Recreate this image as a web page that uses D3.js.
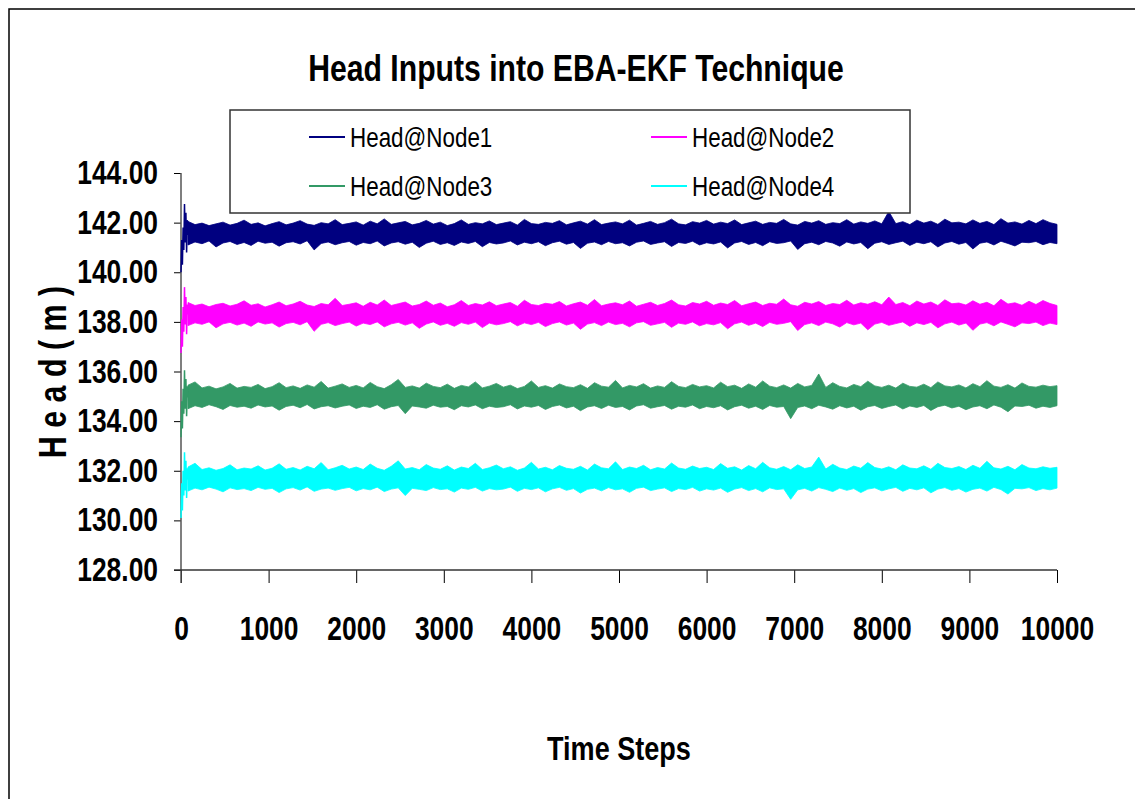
<!DOCTYPE html>
<html>
<head>
<meta charset="utf-8">
<script src="https://cdn.jsdelivr.net/npm/d3@7"></script>
<style>
  body { margin: 0; background: #fff; }
  svg { display: block; }
  text { font-family: "Liberation Sans", Arial, sans-serif; }
</style>
</head>
<body>
<div class="canvas"></div>
<script>
// time axis
const timeTicks = [0, 1000, 2000, 3000, 4000, 5000, 6000, 7000, 8000, 9000, 10000];
const headTicks = [128, 130, 132, 134, 136, 138, 140, 142, 144];
const seriesNames = ["Head@Node1", "Head@Node2", "Head@Node3", "Head@Node4"];
const seriesColors = ["#000080", "#ff00ff", "#339966", "#00ffff"];

// start-up transient, t = 0..80
const startSteps = [0, 8, 16, 24, 32, 40, 48, 56, 64, 72, 80];
const node1Start = [140.00, 141.30, 140.30, 141.80, 140.90, 142.75, 141.20, 142.40, 140.80, 142.10, 141.50];
const node2Start = [136.75, 138.10, 137.00, 138.60, 137.60, 139.40, 137.90, 139.00, 137.50, 138.70, 138.30];
const node3Start = [133.35, 134.80, 133.70, 135.30, 134.30, 136.05, 134.50, 135.70, 134.20, 135.40, 134.95];
const node4Start = [130.10, 131.50, 130.40, 132.00, 131.00, 132.75, 131.20, 132.40, 130.90, 132.10, 131.65];

// after that the noise band: max / min head every 80 steps (80..10000)
const node1Hi = [
  142.05,141.92,141.98,141.88,141.95,142.02,141.90,141.97,142.10,141.93,141.99,141.87,141.96,142.04,141.91,141.98,142.08,141.94,141.89,142.00,141.95,142.12,141.92,141.97,142.03,
  141.90,142.06,141.95,142.15,141.93,141.99,142.05,141.91,141.97,142.09,141.94,142.02,141.88,141.96,142.11,141.93,142.00,141.95,142.07,141.92,141.98,142.04,141.90,142.13,141.96,
  141.93,142.01,141.97,142.08,141.91,141.99,142.06,141.94,142.12,141.92,141.98,142.03,141.95,142.10,141.90,141.97,142.05,141.93,142.00,142.14,141.95,141.91,142.04,141.98,142.09,
  141.94,142.02,141.96,142.11,141.92,141.99,142.06,141.93,142.01,141.97,142.13,141.95,141.90,142.05,141.98,142.08,141.93,142.00,141.96,142.12,141.94,142.03,141.97,142.07,141.95,
  142.45,141.96,142.04,141.92,142.10,141.98,142.06,141.93,142.14,141.99,142.02,141.95,142.11,141.97,142.05,141.92,142.16,141.98,142.03,141.94,142.09,141.96,142.12,142.00,141.93];
const node1Lo = [
  141.10,141.22,141.15,141.26,141.02,141.18,141.24,141.12,141.20,141.08,141.25,141.17,141.21,141.05,141.19,141.23,141.14,141.27,140.90,141.16,141.22,141.11,141.19,141.24,141.09,
  141.20,141.15,141.26,141.06,141.18,141.23,141.13,141.21,141.00,141.17,141.25,141.12,141.19,141.08,141.22,141.16,141.24,141.03,141.20,141.14,141.18,141.26,141.10,141.21,141.15,
  141.23,141.07,141.19,141.25,141.13,141.20,140.96,141.17,141.22,141.11,141.24,141.15,141.19,141.06,141.21,141.26,141.12,141.18,141.23,141.04,141.20,141.16,141.25,141.10,141.19,
  141.14,141.22,140.98,141.18,141.24,141.12,141.20,141.07,141.23,141.16,141.19,141.26,140.92,141.15,141.21,141.11,141.24,141.18,141.05,141.22,141.14,141.20,140.95,141.17,141.23,
  141.12,141.19,141.25,141.08,141.21,141.15,141.23,141.02,141.18,141.24,141.13,141.20,140.94,141.17,141.22,141.10,141.25,141.16,141.06,141.21,141.19,141.24,141.11,141.20,141.15];

const node2Hi = [
  138.78,138.66,138.72,138.61,138.70,138.75,138.64,138.71,138.85,138.67,138.73,138.60,138.69,138.80,138.65,138.72,138.83,138.68,138.62,138.74,138.69,138.95,138.66,138.71,138.77,
  138.63,138.79,138.68,138.88,138.66,138.73,138.80,138.64,138.70,138.84,138.67,138.76,138.61,138.69,138.86,138.66,138.74,138.68,138.81,138.65,138.72,138.78,138.63,138.87,138.70,
  138.66,138.75,138.71,138.82,138.64,138.73,138.80,138.67,138.90,138.65,138.72,138.77,138.69,138.84,138.63,138.71,138.79,138.66,138.74,138.88,138.69,138.64,138.78,138.72,138.83,
  138.67,138.76,138.70,138.86,138.65,138.73,138.80,138.66,138.75,138.71,138.92,138.69,138.63,138.79,138.72,138.82,138.66,138.74,138.70,138.87,138.68,138.77,138.71,138.81,138.69,
  139.00,138.70,138.78,138.65,138.84,138.72,138.80,138.66,138.89,138.73,138.76,138.68,138.85,138.71,138.79,138.65,138.91,138.72,138.77,138.67,138.83,138.70,138.86,138.74,138.66];
const node2Lo = [
  137.85,137.96,137.90,138.00,137.76,137.92,137.98,137.87,137.95,137.82,138.00,137.91,137.96,137.79,137.93,137.98,137.88,138.01,137.62,137.90,137.97,137.85,137.93,137.99,137.83,
  137.95,137.89,138.00,137.80,137.92,137.98,137.87,137.96,137.74,137.91,138.00,137.86,137.94,137.82,137.97,137.90,137.99,137.77,137.95,137.88,137.93,138.01,137.84,137.96,137.89,
  137.98,137.81,137.93,138.00,137.87,137.95,137.70,137.91,137.97,137.85,137.99,137.89,137.94,137.80,137.96,138.01,137.86,137.92,137.98,137.78,137.95,137.90,138.00,137.84,137.93,
  137.88,137.97,137.72,137.92,137.99,137.86,137.95,137.81,137.98,137.90,137.94,138.01,137.65,137.89,137.96,137.85,137.99,137.92,137.79,137.97,137.88,137.95,137.68,137.91,137.98,
  137.86,137.93,138.00,137.82,137.96,137.89,137.98,137.76,137.92,137.99,137.87,137.95,137.66,137.91,137.97,137.84,138.00,137.90,137.80,137.96,137.93,137.99,137.85,137.95,137.89];

const node3Hi = [
  135.45,135.58,135.34,135.41,135.30,135.38,135.52,135.33,135.40,135.36,135.48,135.31,135.39,135.55,135.35,135.42,135.32,135.46,135.37,135.60,135.33,135.41,135.50,135.36,135.44,
  135.34,135.56,135.39,135.31,135.47,135.68,135.36,135.42,135.33,135.53,135.40,135.35,135.49,135.32,135.44,135.38,135.58,135.34,135.41,135.52,135.37,135.45,135.31,135.40,135.62,
  135.36,135.43,135.33,135.50,135.39,135.35,135.47,135.32,135.55,135.41,135.37,135.64,135.34,135.44,135.38,135.51,135.33,135.42,135.36,135.59,135.40,135.35,135.48,135.38,135.43,
  135.34,135.57,135.39,135.45,135.32,135.50,135.37,135.62,135.41,135.35,135.46,135.33,135.52,135.38,135.44,135.90,135.36,135.55,135.40,135.34,135.48,135.39,135.61,135.42,135.36,
  135.45,135.33,135.53,135.40,135.37,135.49,135.35,135.58,135.42,135.38,135.46,135.34,135.51,135.39,135.63,135.41,135.36,135.47,135.33,135.54,135.40,135.37,135.45,135.39,135.43];
const node3Lo = [
  134.50,134.62,134.55,134.66,134.58,134.47,134.63,134.56,134.60,134.52,134.65,134.57,134.61,134.44,134.59,134.64,134.54,134.67,134.49,134.58,134.62,134.53,134.60,134.65,134.51,
  134.60,134.55,134.66,134.48,134.58,134.63,134.30,134.61,134.57,134.52,134.64,134.56,134.59,134.46,134.62,134.57,134.65,134.50,134.60,134.55,134.58,134.66,134.49,134.61,134.56,
  134.63,134.47,134.59,134.65,134.53,134.60,134.42,134.57,134.62,134.51,134.64,134.55,134.59,134.45,134.61,134.66,134.52,134.58,134.63,134.48,134.60,134.56,134.65,134.50,134.59,
  134.54,134.62,134.45,134.58,134.64,134.52,134.60,134.47,134.63,134.56,134.59,134.10,134.55,134.61,134.50,134.64,134.57,134.48,134.62,134.53,134.60,134.44,134.58,134.63,134.51,
  134.59,134.65,134.49,134.61,134.55,134.63,134.43,134.58,134.64,134.53,134.60,134.46,134.57,134.62,134.50,134.65,134.56,134.38,134.61,134.59,134.64,134.52,134.60,134.55,134.62];

const node4Hi = [
  132.15,132.30,132.05,132.12,132.02,132.09,132.24,132.04,132.11,132.07,132.20,132.03,132.10,132.28,132.06,132.13,132.03,132.18,132.08,132.33,132.04,132.12,132.22,132.07,132.15,
  132.05,132.27,132.10,132.02,132.18,132.40,132.07,132.13,132.04,132.25,132.11,132.06,132.20,132.03,132.15,132.09,132.30,132.05,132.12,132.23,132.08,132.16,132.02,132.11,132.34,
  132.07,132.14,132.04,132.21,132.10,132.06,132.18,132.03,132.27,132.12,132.08,132.36,132.05,132.15,132.09,132.22,132.04,132.13,132.07,132.31,132.11,132.06,132.19,132.09,132.14,
  132.05,132.29,132.10,132.16,132.03,132.21,132.08,132.34,132.12,132.06,132.17,132.04,132.24,132.09,132.15,132.55,132.07,132.26,132.11,132.05,132.19,132.10,132.33,132.13,132.07,
  132.16,132.04,132.24,132.11,132.08,132.20,132.06,132.30,132.13,132.09,132.17,132.05,132.22,132.10,132.38,132.12,132.07,132.18,132.04,132.25,132.11,132.08,132.16,132.10,132.14];
const node4Lo = [
  131.18,131.30,131.23,131.34,131.26,131.15,131.31,131.24,131.28,131.20,131.33,131.25,131.29,131.12,131.27,131.32,131.22,131.35,131.17,131.26,131.30,131.21,131.28,131.33,131.19,
  131.28,131.23,131.34,131.16,131.26,131.31,131.00,131.29,131.25,131.20,131.32,131.24,131.27,131.14,131.30,131.25,131.33,131.18,131.28,131.23,131.26,131.34,131.17,131.29,131.24,
  131.31,131.15,131.27,131.33,131.21,131.28,131.10,131.25,131.30,131.19,131.32,131.23,131.27,131.13,131.29,131.34,131.20,131.26,131.31,131.16,131.28,131.24,131.33,131.18,131.27,
  131.22,131.30,131.13,131.26,131.32,131.20,131.28,131.15,131.31,131.24,131.27,130.85,131.23,131.29,131.18,131.32,131.25,131.16,131.30,131.21,131.28,131.12,131.26,131.31,131.19,
  131.27,131.33,131.17,131.29,131.23,131.31,131.11,131.26,131.32,131.21,131.28,131.14,131.25,131.30,131.18,131.33,131.24,131.06,131.29,131.27,131.32,131.20,131.28,131.23,131.30];

const bandSteps = d3.range(80, 10001, 80);

const series = [
  { name: seriesNames[0], color: seriesColors[0], start: node1Start, hi: node1Hi, lo: node1Lo },
  { name: seriesNames[1], color: seriesColors[1], start: node2Start, hi: node2Hi, lo: node2Lo },
  { name: seriesNames[2], color: seriesColors[2], start: node3Start, hi: node3Hi, lo: node3Lo },
  { name: seriesNames[3], color: seriesColors[3], start: node4Start, hi: node4Hi, lo: node4Lo }
];

// no narrow font installed, so squeeze the text horizontally like Arial Narrow
function condense(sel, k) {
  sel.each(function () {
    const w = this.getComputedTextLength();
    d3.select(this).attr('textLength', w * k).attr('lengthAdjust', 'spacingAndGlyphs');
  });
}

const W = 1135, H = 799;
const svg = d3.select('.canvas').append('svg')
  .attr('width', W)
  .attr('height', H);

// outer chart frame (runs off the right and bottom)
svg.append('rect')
  .attr('x', 9).attr('y', 9)
  .attr('width', 1140).attr('height', 800)
  .attr('fill', 'none').attr('stroke', '#000').attr('stroke-width', 1.5);

const x = d3.scaleLinear().domain([0, 10000]).range([181, 1057]);
const y = d3.scaleLinear().domain([128, 144]).range([570, 173]);

// y axis
const yAxis = svg.append('g')
  .attr('transform', 'translate(181,0)')
  .call(d3.axisLeft(y).tickValues(headTicks).tickSize(7).tickPadding(16)
    .tickFormat(d3.format('.2f')));
yAxis.select('.domain').remove();
yAxis.selectAll('line').attr('stroke', '#000');
yAxis.selectAll('text')
  .attr('font-family', null)
  .attr('font-size', 33).attr('font-weight', 'bold').attr('fill', '#000')
  .call(condense, 0.8);

// x axis
const xAxis = svg.append('g')
  .attr('transform', 'translate(0,570)')
  .call(d3.axisBottom(x).tickValues(timeTicks).tickSize(13).tickPadding(34)
    .tickFormat(d3.format('d')));
xAxis.select('.domain').remove();
xAxis.selectAll('line').attr('stroke', '#000');
xAxis.selectAll('text')
  .attr('font-size', 33).attr('font-weight', 'bold').attr('fill', '#000')
  .call(condense, 0.8);
svg.selectAll('.tick text').attr('font-family', null);
svg.selectAll('g').attr('font-family', null);

// axis lines
svg.append('line').attr('x1', 181).attr('x2', 181).attr('y1', 173).attr('y2', 583)
  .attr('stroke', '#555').attr('stroke-width', 1.5);
svg.append('line').attr('x1', 174).attr('x2', 1057).attr('y1', 570).attr('y2', 570)
  .attr('stroke', '#333').attr('stroke-width', 1.5);

// series
const area = d3.area()
  .x((d, i) => x(bandSteps[i]))
  .y0(d => y(d.lo))
  .y1(d => y(d.hi));
const line = d3.line()
  .x((d, i) => x(startSteps[i]))
  .y(d => y(d));

const graph = svg.append('g');
series.forEach(s => {
  const band = s.hi.map((h, i) => ({ hi: h, lo: s.lo[i] }));
  graph.append('path')
    .attr('d', area(band))
    .attr('fill', s.color)
    .attr('stroke', s.color)
    .attr('stroke-width', 0.8);
  graph.append('path')
    .attr('d', line(s.start))
    .attr('fill', 'none')
    .attr('stroke', s.color)
    .attr('stroke-width', 1.5);
});

// legend
const legend = svg.append('g');
legend.append('rect')
  .attr('x', 230).attr('y', 110).attr('width', 680).attr('height', 103)
  .attr('fill', '#fff').attr('stroke', '#333').attr('stroke-width', 1.5);
const legendPos = [[309, 137], [651, 137], [309, 186], [651, 186]];
series.forEach((s, i) => {
  const [lx, ly] = legendPos[i];
  legend.append('line')
    .attr('x1', lx).attr('x2', lx + 36).attr('y1', ly).attr('y2', ly)
    .attr('stroke', s.color).attr('stroke-width', 2);
  legend.append('text')
    .attr('x', lx + 41).attr('y', ly + 10)
    .attr('font-size', 28).attr('fill', '#000')
    .text(s.name)
    .call(condense, 0.8);
});

// titles
svg.append('text')
  .attr('x', 576).attr('y', 81)
  .attr('text-anchor', 'middle')
  .attr('font-size', 37).attr('font-weight', 'bold')
  .text('Head Inputs into EBA-EKF Technique')
  .call(condense, 0.815);

svg.append('text')
  .attr('x', 619).attr('y', 760)
  .attr('text-anchor', 'middle')
  .attr('font-size', 33).attr('font-weight', 'bold')
  .text('Time Steps')
  .call(condense, 0.82);

svg.append('text')
  .attr('transform', 'translate(66,372) rotate(-90)')
  .attr('text-anchor', 'middle')
  .attr('font-size', 38).attr('font-weight', 'bold')
  .text('H e a d  ( m )')
  .call(condense, 0.8);
</script>
</body>
</html>
